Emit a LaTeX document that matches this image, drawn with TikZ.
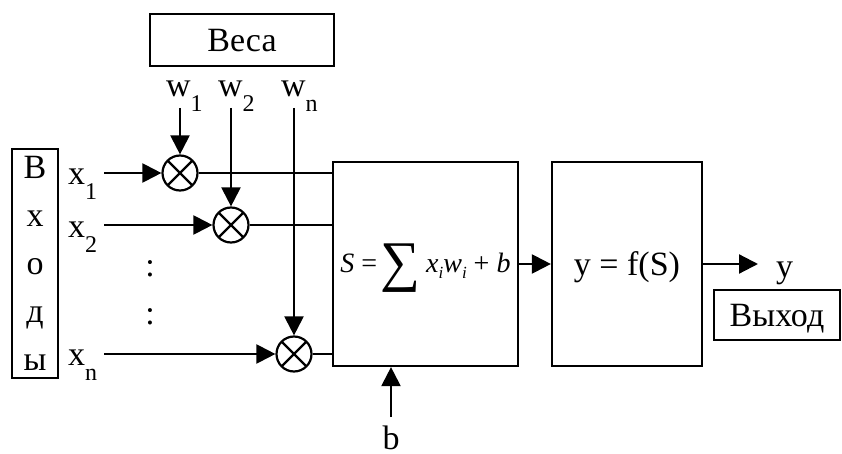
\documentclass[tikz,border=0pt]{standalone}
\usepackage{fontspec}
\setmainfont{Liberation Serif}
\usetikzlibrary{arrows.meta,positioning,calc}
\newcommand{\lowidx}[1]{\raisebox{-15pt}{\fontsize{24}{24}\selectfont #1}}
\newcommand{\sumidx}[1]{\raisebox{-6pt}{\fontsize{17}{17}\selectfont\itshape #1}}

\begin{document}
\begin{tikzpicture}[x=1pt,y=-1pt,line width=2.2pt,
  blockbox/.style={draw,line width=2.2pt,inner sep=0pt},
  txt/.style={font=\fontsize{34}{34}\selectfont,inner sep=0pt},
  mult/.style={draw,circle,minimum size=35pt,inner sep=0pt,path picture={\draw[line width=2.2pt] (path picture bounding box.south west) -- (path picture bounding box.north east) (path picture bounding box.north west) -- (path picture bounding box.south east);}},
  sig/.style={-{Triangle[length=19pt,width=19pt]}}]
  \useasboundingbox (0,0) rectangle (842,454);
  % blocks
  \node[blockbox,txt,minimum width=184pt,minimum height=52pt,text height=23pt,text depth=0pt] (weights) at (242,40) {Веса};
  \node[blockbox,minimum width=46pt,minimum height=229pt,align=center,font=\fontsize{34}{48}\selectfont] (inputs) at (35,263.5) {В\\х\\о\\д\\ы};
  \node[blockbox,minimum width=185pt,minimum height=204pt,font=\fontsize{28}{28}\selectfont,text height=17pt,text depth=0pt] (sum) at (425.5,264) {\textit{S} =\hspace{3pt}\raisebox{-8pt}{\fontsize{56}{56}\selectfont ∑}\hspace{-1pt} \textit{x}\sumidx{i}\textit{w}\sumidx{i} + \textit{b}};
  \node[blockbox,txt,minimum width=150pt,minimum height=204pt,text height=23pt,text depth=0pt] (act) at (627,264) {y = f(S)};
  \node[blockbox,txt,minimum width=126pt,minimum height=50pt,text height=23pt,text depth=0pt] (outbox) at (777,315) {Выход};
  % multipliers
  \node[mult] (m1) at (180,173) {};
  \node[mult] (m2) at (231,225) {};
  \node[mult] (mn) at (294,354) {};
  % labels
  \node[txt,anchor=base west] (lx1) at (67,185) {x\lowidx{1}};
  \node[txt,anchor=base west] (lx2) at (67,237) {x\lowidx{2}};
  \node[txt,anchor=base west] (lxn) at (67,365) {x\lowidx{n}};
  \node[txt,anchor=base west] (lw1) at (165,97) {w\lowidx{1}};
  \node[txt,anchor=base west] (lw2) at (217,97) {w\lowidx{2}};
  \node[txt,anchor=base west] (lwn) at (280,97) {w\lowidx{n}};
  \node[txt] (dots1) at (150,268.5) {:};
  \node[txt] (dots2) at (150,316.5) {:};
  % free ends
  \coordinate (in1) at (104,173);
  \coordinate (in2) at (104,225);
  \coordinate (inn) at (104,354);
  \coordinate (win1) at (180,108);
  \coordinate (win2) at (231,108);
  \coordinate (winn) at (294,108);
  \coordinate (bin) at (391,417);
  \coordinate (yout) at (758,264);
  \node[txt,anchor=base west] (ly) at (775,277) {y};
  \node[txt,text depth=0pt,below=8pt of bin] (lb) {b};
  % connectors
  \draw[sig] (in1) -- (m1);
  \draw[sig] (in2) -- (m2);
  \draw[sig] (inn) -- (mn);
  \draw[sig] (win1) -- (m1);
  \draw[sig] (win2) -- (m2);
  \draw[sig] (winn) -- (mn);
  \draw (m1) -- (m1 -| sum.west);
  \draw (m2) -- (m2 -| sum.west);
  \draw (mn) -- (mn -| sum.west);
  \draw[sig] (bin) -- (bin |- sum.south);
  \draw[sig] (sum) -- (act);
  \draw[sig] (act.east) -- (yout);
\end{tikzpicture}
\end{document}
